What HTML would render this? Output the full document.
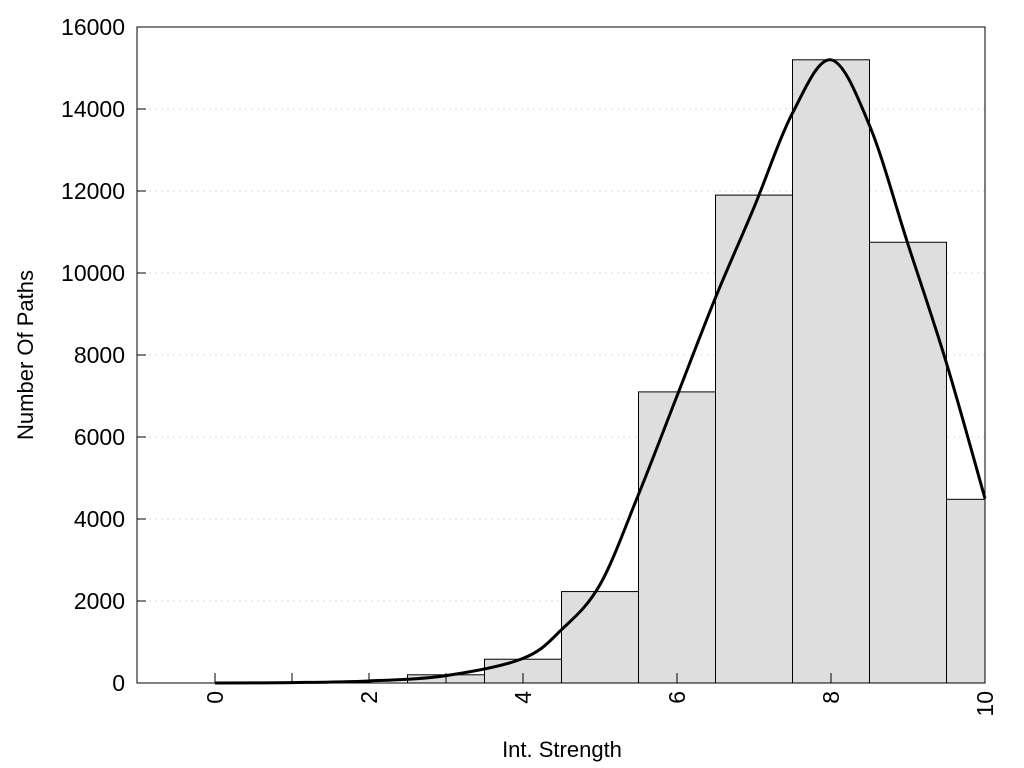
<!DOCTYPE html>
<html><head><meta charset="utf-8"><style>
html,body{margin:0;padding:0;background:#fff;}
svg{display:block;font-family:"Liberation Sans",sans-serif;}
</style></head><body>
<svg id="chart" width="1024" height="768">
<g id="grid"></g>
<g id="bars"></g>
<path id="curve" fill="none" stroke="#000" stroke-width="3"/>
<rect x="137" y="27" width="848" height="656" fill="none" stroke="#000" stroke-width="1"/>
<g id="axes"></g>
<text x="562" y="757" text-anchor="middle" font-size="22">Int. Strength</text>
<text transform="translate(33,355) rotate(-90)" text-anchor="middle" font-size="22">Number Of Paths</text>
</svg>
<script>
const binCenters=[0,1,2,3,4,5,6,7,8,9,10];
const binCounts=[0,0,0,200,580,2230,7100,11900,15200,10750,4480];
const curveX=[0,1,2,3,4,4.5,5,5.5,6,6.5,7,7.5,8,8.5,9,9.5,10];
const curveY=[0,10,50,180,600,1300,2400,4600,7000,9400,11600,13900,15200,13600,10700,7800,4500];
const yTicks=[0,2000,4000,6000,8000,10000,12000,14000,16000];
const xTicks=[0,2,4,6,8,10];
const xMinor=[0,1,2,3];
const NS="http://www.w3.org/2000/svg";
const X0=137,X1=985,Y0=683,Y1=27;
const xs=v=>215+(v)*77;
const ys=v=>Y0-(v)/16000*(Y0-Y1);
function mk(t,a,p){const e=document.createElementNS(NS,t);for(const k in a)e.setAttribute(k,a[k]);(p||document.getElementById('chart')).appendChild(e);return e;}
const grid=document.getElementById('grid'),bars=document.getElementById('bars'),axes=document.getElementById('axes');
yTicks.forEach(v=>{
 if(v>0&&v<16000){const g=mk('line',{x1:X0,x2:X1,y1:ys(v),y2:ys(v),stroke:'#ddd','stroke-dasharray':'2,4'},grid);
 
 }
 const t=mk('line',{x1:X0,x2:X0+9,y1:ys(v),y2:ys(v),stroke:'#000'},axes);
 
 
 const l=mk('text',{x:X0-12,y:ys(v)+8,'text-anchor':'end','font-size':23},axes);l.textContent=v;
 
 
});
binCenters.forEach((c,i)=>{
 if(binCounts[i]<=0)return;
 const a=Math.max(xs(c-0.5),X0),b=Math.min(xs(c+0.5),X1);
 const r=mk('rect',{x:a,y:ys(binCounts[i]),width:b-a,height:Y0-ys(binCounts[i]),fill:'#dedede',stroke:'#000','stroke-width':1},bars);
 
 
});
xMinor.concat(xTicks).forEach(v=>{
 const t=mk('line',{x1:xs(v),x2:xs(v),y1:Y0,y2:Y0-10,stroke:'#000'},axes);
 
 
});
xTicks.forEach(v=>{
 const l=mk('text',{transform:`translate(${xs(v)+8},${Y0+8}) rotate(-90)`,'text-anchor':'end','font-size':23},axes);l.textContent=v;
 
 
});
const P=curveX.map((x,i)=>[xs(x),ys(curveY[i])]);
let d='M'+P[0][0]+','+P[0][1];
for(let i=0;i<P.length-1;i++){const p0=P[Math.max(i-1,0)],p1=P[i],p2=P[i+1],p3=P[Math.min(i+2,P.length-1)];
 d+=` C${p1[0]+(p2[0]-p0[0])/6},${p1[1]+(p2[1]-p0[1])/6} ${p2[0]-(p3[0]-p1[0])/6},${p2[1]-(p3[1]-p1[1])/6} ${p2[0]},${p2[1]}`;}
document.getElementById('curve').setAttribute('d',d);
</script>
</body></html>
